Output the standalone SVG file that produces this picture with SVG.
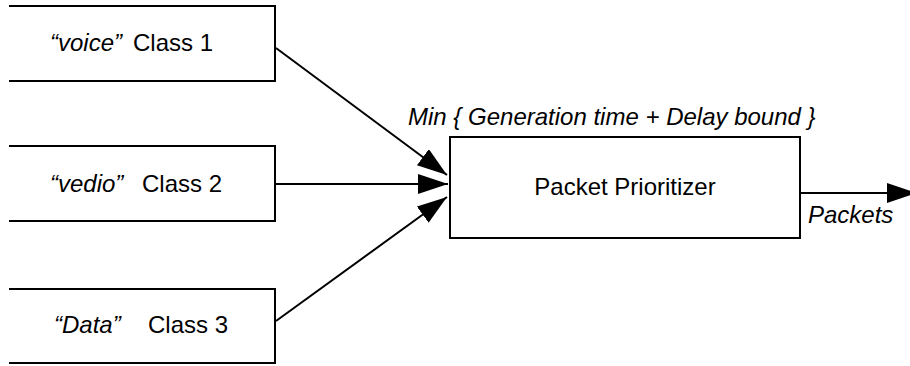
<svg xmlns="http://www.w3.org/2000/svg" width="910" height="366" viewBox="0 0 910 366">
<style>
.box{fill:#fff;stroke:#000;stroke-width:2}
.t{font-family:"Liberation Sans",Arial,sans-serif;font-size:24px;fill:#000}
.i{font-style:italic}
.c{stroke:#000;stroke-width:2;fill:none}
</style>
<defs>
<marker id="ah" markerUnits="userSpaceOnUse" markerWidth="32" markerHeight="22" refX="30" refY="10" orient="auto">
<path d="M0,0 L30,10 L0,20 Z" fill="#000"/>
</marker>
</defs>
<rect width="910" height="366" fill="#fff"/>
<g id="class1">
<path class="box" d="M9,6 H275 V81 H9"/>
<text class="t" y="51"><tspan x="50" class="i">“voice”</tspan><tspan x="133">Class 1</tspan></text>
</g>
<g id="class2">
<path class="box" d="M9,146 H275 V221 H9"/>
<text class="t" y="192"><tspan x="50" class="i">“vedio”</tspan><tspan x="142">Class 2</tspan></text>
</g>
<g id="class3">
<path class="box" d="M9,289 H275 V363 H9"/>
<text class="t" y="333"><tspan x="54" class="i">“Data”</tspan><tspan x="148">Class 3</tspan></text>
</g>
<g id="prioritizer">
<rect class="box" x="450" y="137" width="350" height="101"/>
<text class="t" x="625" y="195" text-anchor="middle">Packet Prioritizer</text>
<text class="t i" x="408" y="125">Min { Generation time + Delay bound }</text>
</g>
<g id="connectors">
<line class="c" x1="276" y1="48" x2="447" y2="175" marker-end="url(#ah)"/>
<line class="c" x1="276" y1="184" x2="448" y2="184" marker-end="url(#ah)"/>
<line class="c" x1="276" y1="321" x2="447" y2="197" marker-end="url(#ah)"/>
<line class="c" x1="800" y1="193" x2="917" y2="193" marker-end="url(#ah)"/>
<text class="t i" x="808" y="223">Packets</text>
</g>
</svg>
